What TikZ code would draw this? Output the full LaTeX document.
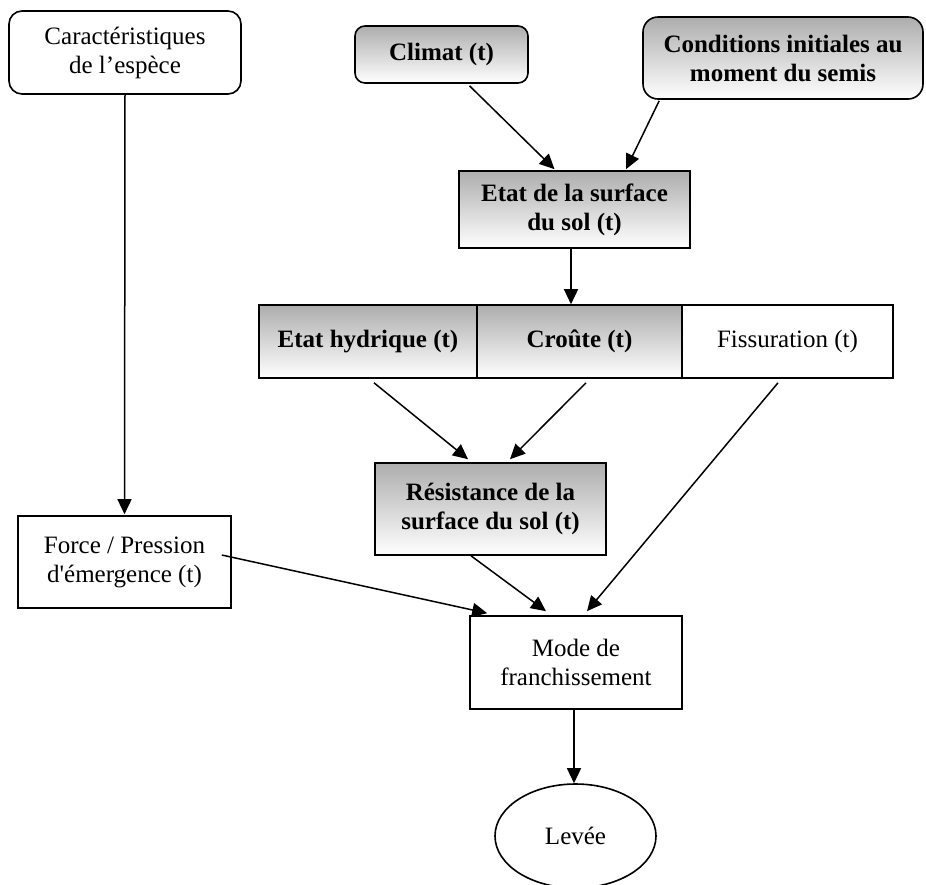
\documentclass[tikz,border=0pt]{standalone}
\usepackage{fontspec}
\setmainfont{Liberation Serif}[Ligatures=TeXOff]
\usetikzlibrary{arrows.meta,shapes.geometric}
\tikzset{
  base/.style={draw=black, line width=1.6pt, align=center, inner sep=0pt,
    font=\fontsize{25}{29}\selectfont},
  plain/.style={base, fill=white},
  shaded/.style={base, top color=black!32, bottom color=white, font=\fontsize{25}{29}\selectfont\bfseries},
  rbox/.style={rounded corners=13pt},
  link/.style={line width=1.5pt, -{Triangle[length=15pt,width=14pt]}}
}
\begin{document}
\begin{tikzpicture}[x=1pt,y=-1pt]
\useasboundingbox (0,0) rectangle (926,884);
% nodes
\node[plain, rbox, minimum width=232pt, minimum height=83pt] (car) at (125,52.5) {Caractéristiques\\de l’espèce};
\node[shaded, rounded corners=10pt, minimum width=173pt, minimum height=57pt] (clim) at (441.5,54.5) {Climat (t)};
\node[shaded, rounded corners=15pt, minimum width=280pt, minimum height=82pt] (cond) at (783,58) {Conditions initiales au\\moment du semis};
\node[shaded, minimum width=231pt, minimum height=77pt] (etat) at (574.5,209.5) {Etat de la surface\\du sol (t)};
\node[shaded, minimum width=218pt, minimum height=73pt] (hyd) at (368,341.5) {Etat hydrique (t)};
\node[shaded, minimum width=205pt, minimum height=73pt] (crou) at (579.5,341.5) {Croûte (t)};
\node[plain, minimum width=211pt, minimum height=73pt] (fiss) at (787.5,341.5) {Fissuration (t)};
\node[shaded, minimum width=231pt, minimum height=92pt] (res) at (490.5,509) {Résistance de la\\surface du sol (t)};
\node[plain, minimum width=213pt, minimum height=92pt] (force) at (124.5,562) {Force / Pression\\d'émergence (t)};
\node[plain, minimum width=212pt, minimum height=93pt] (mode) at (576,662.5) {Mode de\\franchissement};
\node[plain, ellipse, minimum width=161pt, minimum height=104pt] (lev) at (575.5,836) {Levée};
% connectors
\draw[link] (car.south) -- ([yshift=1pt]force.north);
\draw[link] ([xshift=28pt,yshift=-2pt]clim.south) -- ([xshift=-20pt,yshift=1pt]etat.north);
\draw[link] ([xshift=17pt,yshift=-1pt]cond.south west) -- ([xshift=51.5pt,yshift=1pt]etat.north);
\draw[link] ([xshift=-3.5pt]etat.south) -- ([xshift=-3.5pt]etat.south |- crou.north);
\draw[link] ([xshift=6pt,yshift=-4pt]hyd.south) -- ([xshift=-22.5pt,yshift=3pt]res.north);
\draw[link] ([xshift=6.5pt,yshift=-4pt]crou.south) -- ([xshift=19.5pt,yshift=3pt]res.north);
\draw[link] ([xshift=-9.5pt,yshift=-4pt]fiss.south) -- ([xshift=11pt,yshift=4pt]mode.north);
\draw[link] ([xshift=-19.5pt]res.south) -- ([xshift=-30pt,yshift=4pt]mode.north);
\draw[link] ([xshift=-10pt,yshift=7pt]force.east) -- ([xshift=18pt,yshift=2pt]mode.north west);
\draw[link] ([xshift=-2pt]mode.south) -- ([xshift=-1.5pt]lev.north);
\end{tikzpicture}
\end{document}
